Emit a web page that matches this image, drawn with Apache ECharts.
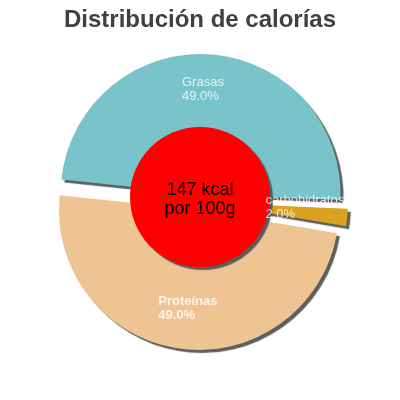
<!DOCTYPE html>
<html>
<head>
<meta charset="utf-8">
<script src="https://cdn.jsdelivr.net/npm/echarts@6/dist/echarts.min.js"></script>
<style>html,body{margin:0;padding:0;background:#fff}#c{width:400px;height:400px}</style>
</head>
<body>
<div id="c"></div>
<script>
const categories = ['Grasas', 'carbohidratos', 'Proteínas'];
const values = [49.0, 2.0, 49.0];
const colors = ['#79C3CB', '#D9A21F', '#EEC592'];
const centerLines = ['147 kcal', 'por 100g'];
const titleText = 'Distribución de calorías';

// label nudges (style only)
const labelOffsets = [[-26, -4], [-43, -6], [-27, -2]];
const labelWeights = ['normal', 'normal', 'bold'];

const total = values.reduce((a, b) => a + b, 0);
let acc = 0;
const labelPoints = categories.map((n, i) => {
  const mid = (acc + values[i] / 2) / total * 100;
  acc += values[i];
  return {
    name: n, value: [109, mid],
    label: {offset: labelOffsets[i], fontWeight: labelWeights[i],
            formatter: n + '\n' + (values[i] / total * 100).toFixed(1) + '%'}
  };
});

const chart = echarts.init(document.getElementById('c'), null, {renderer: 'canvas'});
const shadow = {shadowColor: 'rgba(85,85,85,0.95)', shadowBlur: 1, shadowOffsetX: 3, shadowOffsetY: 3};
const pieData = categories.map((n, i) => ({
  name: n, value: values[i], selected: true,
  itemStyle: Object.assign({color: colors[i]}, shadow)
}));
const ctrStyle = {fontFamily: 'Liberation Sans, Arial', fontSize: 18, lineHeight: 19, color: '#000'};
chart.setOption({
  animation: false,
  title: {
    text: titleText, left: 'center', top: 3,
    textStyle: {fontFamily: 'Liberation Sans, Arial', fontSize: 24, fontWeight: 'bold', color: '#404040'}
  },
  polar: {center: [200, 202], radius: 140},
  angleAxis: {type: 'value', min: 0, max: 100, startAngle: 174, clockwise: true, show: false},
  radiusAxis: {type: 'value', min: 0, max: 140, show: false},
  series: [
    {
      type: 'pie', z: 1, center: [200, 202], radius: [0, 140], startAngle: 174, clockwise: true,
      selectedMode: 'multiple', selectedOffset: 8, silent: true, animation: false,
      emphasis: {disabled: true},
      data: pieData, label: {show: false}, labelLine: {show: false}
    },
    {
      type: 'pie', z: 2, center: [200, 197], radius: [0, 70], silent: true, animation: false,
      emphasis: {disabled: true},
      data: [{value: 1, name: 'kcal', itemStyle: Object.assign({color: '#FF0000'}, shadow)}],
      label: {
        show: true, position: 'center',
        formatter: '{s| }\n{a|' + centerLines[0] + '}\n{a|' + centerLines[1] + '}',
        rich: {
          s: {fontSize: 1, lineHeight: 6, color: 'rgba(0,0,0,0)'},
          a: Object.assign({}, ctrStyle)
        }
      },
      labelLine: {show: false}
    },
    {
      type: 'scatter', coordinateSystem: 'polar', z: 3, silent: true, animation: false,
      symbolSize: 0, data: labelPoints,
      label: {
        show: true, position: 'inside', align: 'left', verticalAlign: 'middle',
        color: '#fff', fontFamily: 'Liberation Sans, Arial', fontSize: 13, lineHeight: 14
      },
      emphasis: {disabled: true}
    }
  ]
});
</script>
</body>
</html>
